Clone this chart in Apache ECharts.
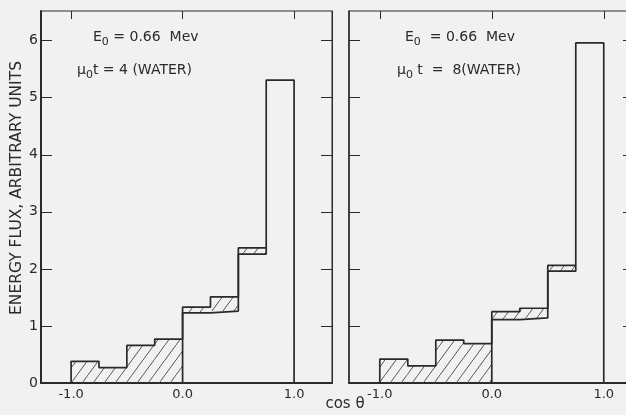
<!DOCTYPE html>
<html>
<head>
<meta charset="utf-8">
<script src="https://cdn.jsdelivr.net/npm/echarts@6.0.0/dist/echarts.min.js"></script>
<style>
  html, body { margin: 0; padding: 0; background: #f1f1f1; }
  #chart { width: 626px; height: 415px; }
</style>
</head>
<body>
<div id="chart"></div>
<script>
// histogram bins in cos(theta)
const binEdges = [-1, -0.75, -0.5, -0.25, 0, 0.25, 0.5, 0.75, 1];
// mu0 t = 4 (water): top of each bin and bottom of its hatched part
const upperT4 = [0.38, 0.27, 0.66, 0.77, 1.33, 1.51, 2.37, 5.31];
const lowerT4 = [0, 0, 0, 0, 1.23, 1.26, 2.26, 5.31];
// mu0 t = 8 (water)
const upperT8 = [0.42, 0.30, 0.75, 0.69, 1.25, 1.31, 2.06, 5.96];
const lowerT8 = [0, 0, 0, 0, 1.11, 1.14, 1.96, 5.96];

const xTickValues = [-1, 0, 1];
const xTickLabels = ['-1.0', '0.0', '1.0'];
const yTickValues = [0, 1, 2, 3, 4, 5, 6];

const ink = '#2a2a2a';
const font = 'DejaVu Sans';

// diagonal hatch tile
const tile = document.createElement('canvas');
tile.width = 11;
tile.height = 15;
const tctx = tile.getContext('2d');
tctx.strokeStyle = '#555';
tctx.lineWidth = 1;
tctx.beginPath();
tctx.moveTo(-1, 15 + 15 / 11);
tctx.lineTo(12, -15 / 11);
tctx.stroke();
const hatch = { image: tile, repeat: 'repeat' };

function upperPath(upper) {
  const pts = [[binEdges[0], 0]];
  upper.forEach((v, i) => {
    pts.push([binEdges[i], v], [binEdges[i + 1], v]);
  });
  pts.push([binEdges[binEdges.length - 1], 0]);
  return pts;
}

function lowerPath(upper, lower) {
  const idx = [];
  lower.forEach((v, i) => { if (v > 0 && v < upper[i]) idx.push(i); });
  const pts = [[binEdges[idx[0]], 0]];
  idx.forEach(i => pts.push([binEdges[i], lower[i]], [binEdges[i + 1], lower[i]]));
  const last = idx[idx.length - 1];
  pts.push([binEdges[last + 1], upper[last]]);
  return pts;
}

function hatchData(upper, lower) {
  const out = [];
  upper.forEach((v, i) => {
    if (v > lower[i]) out.push([binEdges[i], binEdges[i + 1], lower[i], v]);
  });
  return out;
}

function renderHatch(params, api) {
  const a = api.coord([api.value(0), api.value(3)]);
  const b = api.coord([api.value(1), api.value(2)]);
  return {
    type: 'rect',
    shape: { x: a[0], y: a[1], width: b[0] - a[0], height: b[1] - a[1] },
    style: { fill: hatch, stroke: null }
  };
}

function panelAxes(gridIndex, withLabels) {
  const xMin = gridIndex === 0 ? -1.27 : -1.275;
  const xMax = gridIndex === 0 ? 1.34 : 1.27;
  const x = [
    {
      type: 'value', gridIndex, position: 'bottom',
      min: xMin, max: xMax,
      splitLine: { show: false },
      axisLine: { onZero: false, lineStyle: { color: ink, width: 2 } },
      axisTick: { show: false },
      axisLabel: {
        customValues: xTickValues,
        formatter: v => xTickLabels[xTickValues.indexOf(v)],
        color: ink, fontFamily: font, fontSize: 13, margin: 5
      }
    },
    {
      type: 'value', gridIndex, position: 'top',
      min: xMin, max: xMax,
      splitLine: { show: false },
      axisLine: { show: false, onZero: false },
      axisTick: { inside: true, length: 8, customValues: xTickValues, lineStyle: { color: ink } },
      axisLabel: { show: false }
    }
  ];
  const y = [
    {
      type: 'value', gridIndex, position: 'left',
      min: 0, max: 6.52,
      splitLine: { show: false },
      axisLine: { show: true, onZero: false, lineStyle: { color: ink, width: gridIndex === 0 ? 2 : 1.5 } },
      axisTick: { inside: true, length: 11, customValues: yTickValues, lineStyle: { color: ink } },
      axisLabel: {
        show: withLabels, customValues: yTickValues,
        color: ink, fontFamily: font, fontSize: 14, margin: 3
      }
    },
    {
      type: 'value', gridIndex, position: 'right',
      min: 0, max: 6.52,
      splitLine: { show: false },
      axisLine: { show: true, onZero: false, lineStyle: { color: ink, width: 1 } },
      axisTick: { inside: true, length: 11, customValues: yTickValues, lineStyle: { color: ink } },
      axisLabel: { show: false }
    }
  ];
  return { x, y };
}

function panelSeries(gridIndex, upper, lower) {
  const xi = gridIndex * 2, yi = gridIndex * 2;
  const line = {
    type: 'line', xAxisIndex: xi, yAxisIndex: yi,
    symbol: 'none', silent: true,
    lineStyle: { color: ink, width: 1.7 }
  };
  return [
    {
      type: 'custom', xAxisIndex: xi, yAxisIndex: yi,
      renderItem: renderHatch,
      encode: { x: [0, 1], y: [2, 3] },
      data: hatchData(upper, lower),
      silent: true
    },
    Object.assign({}, line, { data: upperPath(upper) }),
    Object.assign({}, line, { data: lowerPath(upper, lower) })
  ];
}

const chart = echarts.init(document.getElementById('chart'), null, { renderer: 'canvas' });

const a0 = panelAxes(0, true);
const a1 = panelAxes(1, false);

// text with a lowered subscript "0"
const rich = {
  n: { fill: ink, fontFamily: font, fontSize: 14, lineHeight: 22, verticalAlign: 'middle' },
  s: { fill: ink, fontFamily: font, fontSize: 11, lineHeight: 11, verticalAlign: 'bottom' }
};
function note(left, top, text) {
  return { type: 'text', left, top, style: { text, rich } };
}

chart.setOption({
  animation: false,
  backgroundColor: '#f1f1f1',
  grid: [
    { left: 41, top: 11, width: 291, bottom: 32, show: true, borderColor: ink, borderWidth: 1, containLabel: false, outerBoundsMode: 'none' },
    { left: 349, top: 11, width: 285, bottom: 32, show: true, borderColor: ink, borderWidth: 1, containLabel: false, outerBoundsMode: 'none' }
  ],
  xAxis: a0.x.concat(a1.x),
  yAxis: a0.y.concat(a1.y),
  series: panelSeries(0, upperT4, lowerT4).concat(panelSeries(1, upperT8, lowerT8)),
  graphic: [
    note(93, 30, '{n|E}{s|0}{n| = 0.66  Mev}'),
    note(77, 63, '{n|μ}{s|0}{n|t = 4 (WATER)}'),
    note(405, 30, '{n|E}{s|0}{n|  = 0.66  Mev}'),
    note(397, 63, '{n|μ}{s|0}{n| t  =  8(WATER)}'),
    {
      type: 'text', x: 17, y: 188, rotation: Math.PI / 2,
      style: { text: 'ENERGY FLUX, ARBITRARY UNITS', fill: ink, fontFamily: font, fontSize: 15.5, align: 'center', verticalAlign: 'middle' }
    },
    {
      type: 'text', x: 345, y: 404,
      style: { text: 'cos θ', fill: ink, fontFamily: font, fontSize: 15, align: 'center', verticalAlign: 'middle' }
    }
  ]
});
</script>
</body>
</html>
